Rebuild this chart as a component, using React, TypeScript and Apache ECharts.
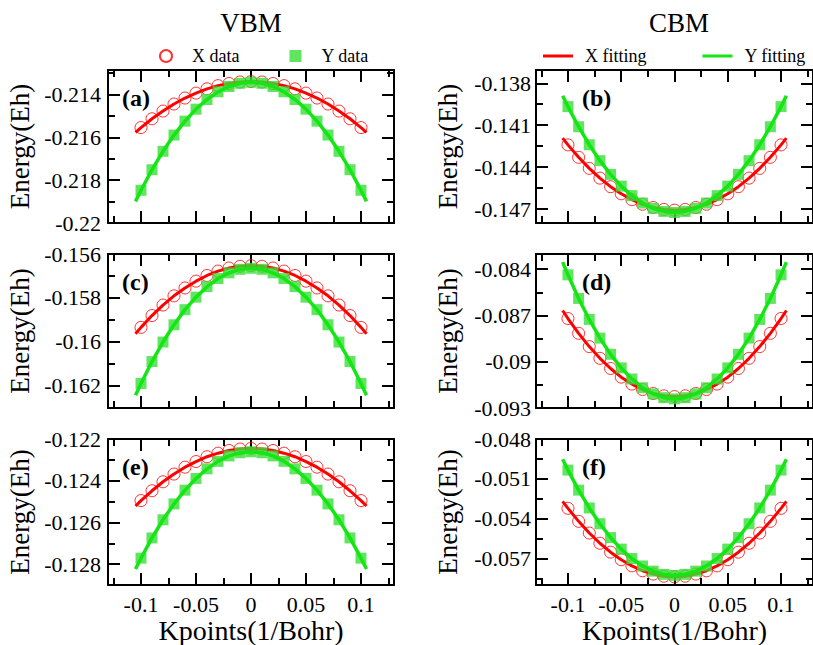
import { useEffect, useRef } from "react";
import * as echarts from "echarts";

const FONT = "Liberation Serif, Times New Roman, Times, serif";

// k-points of the data points and of the fitted curves
const KPOINTS = [-0.1, -0.09, -0.08, -0.07, -0.06, -0.05, -0.04, -0.03, -0.02, -0.01, 0, 0.01, 0.02, 0.03, 0.04, 0.05, 0.06, 0.07, 0.08, 0.09, 0.1];
const KPOINTS_FIT = [-0.105, -0.1, -0.09, -0.08, -0.07, -0.06, -0.05, -0.04, -0.03, -0.02, -0.01, 0, 0.01, 0.02, 0.03, 0.04, 0.05, 0.06, 0.07, 0.08, 0.09, 0.1, 0.105];

const X_MAJOR = [-0.1, -0.05, 0, 0.05, 0.1];
const X_MINOR = [-0.125, -0.075, -0.025, 0.025, 0.075, 0.125];
const X_MIN = -0.13;
const X_MAX = 0.13;

const PANEL_TAGS = ["(a)", "(b)", "(c)", "(d)", "(e)", "(f)"];
const COLUMN_TITLES = ["VBM", "CBM"];
const LEGEND_DATA = ["X data", "Y data"];
const LEGEND_FIT = ["X fitting", "Y fitting"];
const Y_NAME = "Energy(Eh)";
const X_NAME = "Kpoints(1/Bohr)";

// y ranges (min, max) per panel a..f
const Y_RANGES = [
  [-0.22, -0.21285],
  [-0.148, -0.13705],
  [-0.16303, -0.156],
  [-0.093, -0.08302],
  [-0.129, -0.122],
  [-0.059, -0.048],
];
const Y_MAJOR = [
  [-0.22, -0.218, -0.216, -0.214],
  [-0.147, -0.144, -0.141, -0.138],
  [-0.162, -0.16, -0.158, -0.156],
  [-0.093, -0.09, -0.087, -0.084],
  [-0.128, -0.126, -0.124, -0.122],
  [-0.057, -0.054, -0.051, -0.048],
];
const Y_MINOR = [
  [-0.219, -0.217, -0.215, -0.213],
  [-0.1455, -0.1425, -0.1395],
  [-0.161, -0.159, -0.157],
  [-0.0915, -0.0885, -0.0855],
  [-0.127, -0.125, -0.123],
  [-0.0585, -0.0555, -0.0525, -0.0495],
];

// panel (a) VBM
const A_X_DATA = [-0.21554, -0.21513, -0.21477, -0.21444, -0.21416, -0.21393, -0.21373, -0.21358, -0.21348, -0.21341, -0.21339, -0.21341, -0.21348, -0.21358, -0.21373, -0.21393, -0.21416, -0.21444, -0.21477, -0.21513, -0.21554];
const A_X_FIT = [-0.21576, -0.21554, -0.21513, -0.21477, -0.21444, -0.21416, -0.21393, -0.21373, -0.21358, -0.21348, -0.21341, -0.21339, -0.21341, -0.21348, -0.21358, -0.21373, -0.21393, -0.21416, -0.21444, -0.21477, -0.21513, -0.21554, -0.21576];
const A_Y_DATA = [-0.21847, -0.21751, -0.21665, -0.21589, -0.21524, -0.21468, -0.21423, -0.21387, -0.21362, -0.21347, -0.21342, -0.21347, -0.21362, -0.21387, -0.21423, -0.21468, -0.21524, -0.21589, -0.21665, -0.21751, -0.21847];
const A_Y_FIT = [-0.21899, -0.21847, -0.21751, -0.21665, -0.21589, -0.21524, -0.21468, -0.21423, -0.21387, -0.21362, -0.21347, -0.21342, -0.21347, -0.21362, -0.21387, -0.21423, -0.21468, -0.21524, -0.21589, -0.21665, -0.21751, -0.21847, -0.21899];

// panel (b) CBM
const B_X_DATA = [-0.14241, -0.1433, -0.14409, -0.14479, -0.1454, -0.14591, -0.14633, -0.14666, -0.14689, -0.14703, -0.14708, -0.14703, -0.14689, -0.14666, -0.14633, -0.14591, -0.1454, -0.14479, -0.14409, -0.1433, -0.14241];
const B_X_FIT = [-0.14193, -0.14241, -0.1433, -0.14409, -0.14479, -0.1454, -0.14591, -0.14633, -0.14666, -0.14689, -0.14703, -0.14708, -0.14703, -0.14689, -0.14666, -0.14633, -0.14591, -0.1454, -0.14479, -0.14409, -0.1433, -0.14241, -0.14193];
const B_Y_DATA = [-0.13967, -0.14111, -0.1424, -0.14354, -0.14452, -0.14536, -0.14604, -0.14657, -0.14695, -0.14717, -0.14725, -0.14717, -0.14695, -0.14657, -0.14604, -0.14536, -0.14452, -0.14354, -0.1424, -0.14111, -0.13967];
const B_Y_FIT = [-0.13889, -0.13967, -0.14111, -0.1424, -0.14354, -0.14452, -0.14536, -0.14604, -0.14657, -0.14695, -0.14717, -0.14725, -0.14717, -0.14695, -0.14657, -0.14604, -0.14536, -0.14452, -0.14354, -0.1424, -0.14111, -0.13967, -0.13889];

// panel (c) VBM
const C_X_DATA = [-0.15935, -0.15881, -0.15833, -0.15791, -0.15755, -0.15724, -0.15698, -0.15678, -0.15664, -0.15656, -0.15653, -0.15656, -0.15664, -0.15678, -0.15698, -0.15724, -0.15755, -0.15791, -0.15833, -0.15881, -0.15935];
const C_X_FIT = [-0.15964, -0.15935, -0.15881, -0.15833, -0.15791, -0.15755, -0.15724, -0.15698, -0.15678, -0.15664, -0.15656, -0.15653, -0.15656, -0.15664, -0.15678, -0.15698, -0.15724, -0.15755, -0.15791, -0.15833, -0.15881, -0.15935, -0.15964];
const C_Y_DATA = [-0.16191, -0.16091, -0.16002, -0.15923, -0.15854, -0.15797, -0.15749, -0.15712, -0.15686, -0.1567, -0.15665, -0.1567, -0.15686, -0.15712, -0.15749, -0.15797, -0.15854, -0.15923, -0.16002, -0.16091, -0.16191];
const C_Y_FIT = [-0.16245, -0.16191, -0.16091, -0.16002, -0.15923, -0.15854, -0.15797, -0.15749, -0.15712, -0.15686, -0.1567, -0.15665, -0.1567, -0.15686, -0.15712, -0.15749, -0.15797, -0.15854, -0.15923, -0.16002, -0.16091, -0.16191, -0.16245];

// panel (d) CBM
const D_X_DATA = [-0.0872, -0.08816, -0.08902, -0.08978, -0.09044, -0.091, -0.09145, -0.0918, -0.09206, -0.09221, -0.09226, -0.09221, -0.09206, -0.0918, -0.09145, -0.091, -0.09044, -0.08978, -0.08902, -0.08816, -0.0872];
const D_X_FIT = [-0.08668, -0.0872, -0.08816, -0.08902, -0.08978, -0.09044, -0.091, -0.09145, -0.0918, -0.09206, -0.09221, -0.09226, -0.09221, -0.09206, -0.0918, -0.09145, -0.091, -0.09044, -0.08978, -0.08902, -0.08816, -0.0872, -0.08668];
const D_Y_DATA = [-0.08437, -0.0859, -0.08726, -0.08847, -0.08952, -0.0904, -0.09112, -0.09169, -0.09209, -0.09233, -0.09241, -0.09233, -0.09209, -0.09169, -0.09112, -0.0904, -0.08952, -0.08847, -0.08726, -0.0859, -0.08437];
const D_Y_FIT = [-0.08355, -0.08437, -0.0859, -0.08726, -0.08847, -0.08952, -0.0904, -0.09112, -0.09169, -0.09209, -0.09233, -0.09241, -0.09233, -0.09209, -0.09169, -0.09112, -0.0904, -0.08952, -0.08847, -0.08726, -0.0859, -0.08437, -0.08355];

// panel (e) VBM
const E_X_DATA = [-0.12495, -0.12448, -0.12405, -0.12368, -0.12335, -0.12308, -0.12285, -0.12268, -0.12255, -0.12248, -0.12245, -0.12248, -0.12255, -0.12268, -0.12285, -0.12308, -0.12335, -0.12368, -0.12405, -0.12448, -0.12495];
const E_X_FIT = [-0.12521, -0.12495, -0.12448, -0.12405, -0.12368, -0.12335, -0.12308, -0.12285, -0.12268, -0.12255, -0.12248, -0.12245, -0.12248, -0.12255, -0.12268, -0.12285, -0.12308, -0.12335, -0.12368, -0.12405, -0.12448, -0.12495, -0.12521];
const E_Y_DATA = [-0.12771, -0.12674, -0.12587, -0.12511, -0.12445, -0.12389, -0.12343, -0.12307, -0.12281, -0.12266, -0.12261, -0.12266, -0.12281, -0.12307, -0.12343, -0.12389, -0.12445, -0.12511, -0.12587, -0.12674, -0.12771];
const E_Y_FIT = [-0.12823, -0.12771, -0.12674, -0.12587, -0.12511, -0.12445, -0.12389, -0.12343, -0.12307, -0.12281, -0.12266, -0.12261, -0.12266, -0.12281, -0.12307, -0.12343, -0.12389, -0.12445, -0.12511, -0.12587, -0.12674, -0.12771, -0.12823];

// panel (f) CBM
const F_X_DATA = [-0.05322, -0.0542, -0.05508, -0.05585, -0.05652, -0.05709, -0.05755, -0.05792, -0.05817, -0.05833, -0.05838, -0.05833, -0.05817, -0.05792, -0.05755, -0.05709, -0.05652, -0.05585, -0.05508, -0.0542, -0.05322];
const F_X_FIT = [-0.05269, -0.05322, -0.0542, -0.05508, -0.05585, -0.05652, -0.05709, -0.05755, -0.05792, -0.05817, -0.05833, -0.05838, -0.05833, -0.05817, -0.05792, -0.05755, -0.05709, -0.05652, -0.05585, -0.05508, -0.0542, -0.05322, -0.05269];
const F_Y_DATA = [-0.05034, -0.05185, -0.05319, -0.05438, -0.05542, -0.05629, -0.057, -0.05756, -0.05795, -0.05819, -0.05827, -0.05819, -0.05795, -0.05756, -0.057, -0.05629, -0.05542, -0.05438, -0.05319, -0.05185, -0.05034];
const F_Y_FIT = [-0.04953, -0.05034, -0.05185, -0.05319, -0.05438, -0.05542, -0.05629, -0.057, -0.05756, -0.05795, -0.05819, -0.05827, -0.05819, -0.05795, -0.05756, -0.057, -0.05629, -0.05542, -0.05438, -0.05319, -0.05185, -0.05034, -0.04953];

const X_DATA = [A_X_DATA, B_X_DATA, C_X_DATA, D_X_DATA, E_X_DATA, F_X_DATA];
const X_FIT = [A_X_FIT, B_X_FIT, C_X_FIT, D_X_FIT, E_X_FIT, F_X_FIT];
const Y_DATA = [A_Y_DATA, B_Y_DATA, C_Y_DATA, D_Y_DATA, E_Y_DATA, F_Y_DATA];
const Y_FIT = [A_Y_FIT, B_Y_FIT, C_Y_FIT, D_Y_FIT, E_Y_FIT, F_Y_FIT];

// layout (pixels)
const COL_LEFT = [108, 536];
const GRID_W = 286;
const ROW_TOP = [70, 254, 439];
const ROW_H = [153, 154, 153];

const RED = "#ff0000";
const GREEN_LINE = "#14e614";
const GREEN_MARK = "#3ade3a";

const fmt = (v: number) => String(parseFloat(Number(v).toFixed(5)));

function buildOption() {
  const grids: any[] = [];
  const xAxes: any[] = [];
  const yAxes: any[] = [];
  const series: any[] = [];
  const graphics: any[] = [];

  for (let i = 0; i < 6; i++) {
    const col = i % 2;
    const row = Math.floor(i / 2);
    const bottomRow = row === 2;
    grids.push({ left: COL_LEFT[col], top: ROW_TOP[row], width: GRID_W, height: ROW_H[row], containLabel: false });

    const axisLineOn = { show: true, onZero: false, lineStyle: { color: "#000", width: 2 } };
    const axisLineOff = { show: false, onZero: false };
    const tickStyle = { color: "#000", width: 2 };
    const xBase = { type: "value", gridIndex: i, min: X_MIN, max: X_MAX, splitLine: { show: false } };
    xAxes.push({
      ...xBase,
      position: "bottom",
      axisLine: axisLineOn,
      axisTick: { show: true, inside: true, length: 12, customValues: X_MAJOR, lineStyle: tickStyle },
      axisLabel: {
        show: bottomRow,
        customValues: X_MAJOR,
        margin: 8,
        formatter: fmt,
        color: "#000",
        fontFamily: FONT,
        fontSize: 22,
      },
      name: bottomRow ? X_NAME : "",
      nameLocation: "middle",
      nameGap: 26,
      nameTextStyle: { color: "#000", fontFamily: FONT, fontSize: 28, verticalAlign: "top" },
    });
    xAxes.push({
      ...xBase,
      position: "bottom",
      axisLine: axisLineOff,
      axisTick: { show: true, inside: true, length: 7, customValues: X_MINOR, lineStyle: tickStyle },
      axisLabel: { show: false },
    });
    xAxes.push({
      ...xBase,
      position: "top",
      axisLine: axisLineOn,
      axisTick: { show: true, inside: true, length: 12, customValues: X_MAJOR, lineStyle: tickStyle },
      axisLabel: { show: false },
    });
    xAxes.push({
      ...xBase,
      position: "top",
      axisLine: axisLineOff,
      axisTick: { show: true, inside: true, length: 7, customValues: X_MINOR, lineStyle: tickStyle },
      axisLabel: { show: false },
    });

    const yBase = { type: "value", gridIndex: i, min: Y_RANGES[i][0], max: Y_RANGES[i][1], splitLine: { show: false } };
    yAxes.push({
      ...yBase,
      position: "left",
      axisLine: axisLineOn,
      axisTick: { show: true, inside: true, length: 12, customValues: Y_MAJOR[i], lineStyle: tickStyle },
      axisLabel: {
        show: true,
        customValues: Y_MAJOR[i],
        margin: col === 0 ? 7 : 5,
        formatter: fmt,
        color: "#000",
        fontFamily: FONT,
        fontSize: 22,
      },
      name: Y_NAME,
      nameLocation: "middle",
      nameGap: 75,
      nameTextStyle: { color: "#000", fontFamily: FONT, fontSize: 27 },
    });
    yAxes.push({
      ...yBase,
      position: "left",
      axisLine: axisLineOff,
      axisTick: { show: true, inside: true, length: 7, customValues: Y_MINOR[i], lineStyle: tickStyle },
      axisLabel: { show: false },
    });
    yAxes.push({
      ...yBase,
      position: "right",
      axisLine: axisLineOn,
      axisTick: { show: true, inside: true, length: 12, customValues: Y_MAJOR[i], lineStyle: tickStyle },
      axisLabel: { show: false },
    });
    yAxes.push({
      ...yBase,
      position: "right",
      axisLine: axisLineOff,
      axisTick: { show: true, inside: true, length: 7, customValues: Y_MINOR[i], lineStyle: tickStyle },
      axisLabel: { show: false },
    });

    const xi = i * 4;
    const yi = i * 4;
    series.push({
      name: LEGEND_DATA[0],
      type: "scatter",
      xAxisIndex: xi,
      yAxisIndex: yi,
      symbol: "circle",
      symbolSize: 12,
      itemStyle: { color: "rgba(255,255,255,0)", borderColor: RED, borderWidth: 1 },
      data: KPOINTS.map((k, j) => [k, X_DATA[i][j]]),
      z: 2,
    });
    series.push({
      name: LEGEND_FIT[0],
      type: "line",
      xAxisIndex: xi,
      yAxisIndex: yi,
      showSymbol: false,
      symbol: "none",
      lineStyle: { color: RED, width: 3 },
      itemStyle: { color: RED },
      data: KPOINTS_FIT.map((k, j) => [k, X_FIT[i][j]]),
      z: 3,
    });
    series.push({
      name: LEGEND_DATA[1],
      type: "scatter",
      xAxisIndex: xi,
      yAxisIndex: yi,
      symbol: "rect",
      symbolSize: 11,
      itemStyle: { color: GREEN_MARK },
      data: KPOINTS.map((k, j) => [k, Y_DATA[i][j]]),
      z: 4,
    });
    series.push({
      name: LEGEND_FIT[1],
      type: "line",
      xAxisIndex: xi,
      yAxisIndex: yi,
      showSymbol: false,
      symbol: "none",
      lineStyle: { color: GREEN_LINE, width: 3.5 },
      itemStyle: { color: GREEN_LINE },
      data: KPOINTS_FIT.map((k, j) => [k, Y_FIT[i][j]]),
      z: 5,
    });

    graphics.push({
      type: "text",
      left: COL_LEFT[col] + (col === 0 ? 14 : 46),
      top: ROW_TOP[row] + 16,
      z: 10,
      style: {
        text: PANEL_TAGS[i],
        font: `bold 24px ${FONT}`,
        fill: "#000",
      },
    });
  }

  COLUMN_TITLES.forEach((t, c) => {
    graphics.push({
      type: "text",
      x: COL_LEFT[c] + GRID_W / 2,
      y: 23,
      style: {
        text: t,
        font: `27px ${FONT}`,
        fill: "#000",
        align: "center",
        verticalAlign: "middle",
      },
    });
  });

  return {
    animation: false,
    backgroundColor: "#fff",
    textStyle: { fontFamily: FONT },
    grid: grids,
    xAxis: xAxes,
    yAxis: yAxes,
    legend: [
      {
        data: [
          { name: LEGEND_DATA[0], icon: "circle" },
          { name: LEGEND_DATA[1], icon: "rect" },
        ],
        orient: "horizontal",
        left: 154,
        top: 42,
        width: 320,
        itemWidth: 12,
        itemHeight: 12,
        itemGap: 50,
        selectedMode: false,
        textStyle: { color: "#000", fontFamily: FONT, fontSize: 18, padding: [0, 0, 0, 15] },
      },
      {
        data: [
          { name: LEGEND_FIT[0], icon: "rect" },
          { name: LEGEND_FIT[1], icon: "rect" },
        ],
        orient: "horizontal",
        left: 538,
        top: 42,
        width: 320,
        itemWidth: 30,
        itemHeight: 3,
        itemGap: 56,
        selectedMode: false,
        textStyle: { color: "#000", fontFamily: FONT, fontSize: 18, padding: [0, 0, 0, 7] },
      },
    ],
    graphic: graphics,
    series,
  };
}

export default function App() {
  const ref = useRef<HTMLDivElement>(null);
  useEffect(() => {
    if (!ref.current) return;
    const chart = echarts.init(ref.current, undefined, { renderer: "svg" });
    chart.setOption(buildOption() as any);
    return () => chart.dispose();
  }, []);
  return (
    <div
      ref={ref}
      style={{ position: "fixed", left: 0, top: 0, width: 813, height: 645, background: "#fff" }}
    />
  );
}
